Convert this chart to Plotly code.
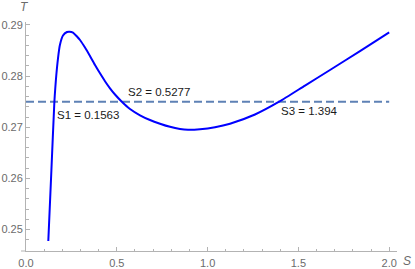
import plotly.graph_objects as go

# Curve
S_vals = [0.1228, 0.1399, 0.1563, 0.1613, 0.1669, 0.1762, 0.1867, 0.2037, 0.2258, 0.2395,
          0.2588, 0.2808, 0.2974, 0.3249, 0.3524, 0.3800, 0.4075, 0.4350, 0.4626, 0.4901,
          0.5277, 0.5727, 0.6278, 0.6828, 0.7379, 0.7930, 0.8480, 0.8921, 0.9581, 1.0407,
          1.1233, 1.2610, 1.394, 1.5363, 1.6740, 1.8392, 2.0]
T_vals = [0.24778, 0.26165, 0.27500, 0.27768, 0.28022, 0.28348, 0.28608, 0.28794, 0.28862, 0.28868,
          0.28852, 0.28774, 0.28706, 0.28559, 0.28393, 0.28217, 0.28055, 0.27901, 0.27762, 0.27641,
          0.27500, 0.27357, 0.27234, 0.27142, 0.27070, 0.27009, 0.26968, 0.26953, 0.26963, 0.27002,
          0.27070, 0.27250, 0.27500, 0.27815, 0.28120, 0.28489, 0.28854]

T_level = 0.275
line_S = [0.0, 2.0]
roots = [0.1563, 0.5277, 1.394]
root_labels = ["S1 = 0.1563", "S2 = 0.5277", "S3 = 1.394"]

x_ticks = [0.0, 0.5, 1.0, 1.5, 2.0]
x_ticktext = ["0.0", "0.5", "1.0", "1.5", "2.0"]
y_ticks = [0.25, 0.26, 0.27, 0.28, 0.29]
y_ticktext = ["0.25", "0.26", "0.27", "0.28", "0.29"]

axis_col = "#b3b3b3"
font_fam = "Liberation Sans, Arial, sans-serif"
tick_font = dict(family=font_fam, size=11, color="#6b6b6b")

fig = go.Figure()
fig.add_trace(go.Scatter(x=line_S, y=[T_level, T_level], mode="lines",
                         line=dict(color="#5E81B5", width=2, dash="8px,4px"),
                         hoverinfo="skip"))
fig.add_trace(go.Scatter(x=S_vals, y=T_vals, mode="lines",
                         line=dict(color="#0000ff", width=2, shape="spline", smoothing=0.6),
                         hoverinfo="skip"))

shifts = [(1, -13), (4, 10), (0, -9)]
for r, lab, (dx, dy) in zip(roots, root_labels, shifts):
    fig.add_annotation(x=r, y=T_level, text=lab, showarrow=False, xanchor="left",
                       yanchor="middle", xshift=dx, yshift=dy,
                       font=dict(family=font_fam, size=11.5, color="#1a1a1a"))

fig.add_annotation(xref="paper", yref="paper", x=-0.0027, y=1.0655, text="<i>T</i>", showarrow=False,
                   xanchor="center", yanchor="middle", borderpad=0,
                   font=dict(family=font_fam, size=12, color="#6b6b6b"))
fig.add_annotation(xref="paper", yref="paper", x=1.027, y=-0.0437, text="<i>S</i>", showarrow=False,
                   xanchor="center", yanchor="middle", borderpad=0,
                   font=dict(family=font_fam, size=12, color="#6b6b6b"))

# small extension of x axis to the left of the origin
fig.add_shape(type="line", xref="paper", yref="paper", x0=-0.0135, x1=0, y0=0, y1=0,
              line=dict(color=axis_col, width=1))

fig.update_xaxes(range=[0, 2.043], showline=True, linecolor=axis_col, linewidth=1,
                 showgrid=False, zeroline=False, ticks="inside", ticklen=4, tickcolor=axis_col,
                 tickvals=x_ticks, ticktext=x_ticktext, tickfont=tick_font, ticklabelstandoff=2,
                 automargin=False,
                 minor=dict(ticks="inside", ticklen=2.5, tickcolor=axis_col, dtick=0.1, tick0=0))
fig.update_yaxes(range=[0.24582, 0.29058], showline=True, linecolor=axis_col, linewidth=1,
                 showgrid=False, zeroline=False, ticks="inside", ticklen=4, tickcolor=axis_col,
                 tickvals=y_ticks, ticktext=y_ticktext, tickfont=tick_font, automargin=False,
                 minor=dict(ticks="inside", ticklen=2.5, tickcolor=axis_col, dtick=0.002, tick0=0.25))

fig.update_layout(width=415, height=269, margin=dict(l=26, r=18, t=22, b=18, autoexpand=False),
                  paper_bgcolor="white", plot_bgcolor="white", showlegend=False)

fig.write_html("out.html", config={"displayModeBar": False},
               post_script="document.body.style.margin='0';document.body.style.overflow='hidden';")
